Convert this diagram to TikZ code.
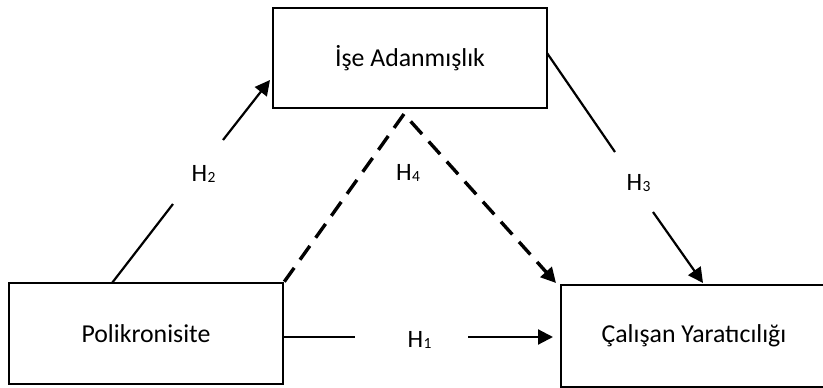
\documentclass[tikz,border=0pt]{standalone}
\usepackage{fontspec}
\setmainfont{Carlito}
\usetikzlibrary{arrows.meta}
\newcommand{\hsub}[1]{H\kern0.5pt\raisebox{-1.5pt}{\fontsize{15.5}{18}\selectfont #1}}
\begin{document}
\begin{tikzpicture}[x=1pt,y=-1pt,
  box/.style={draw, line width=2.6pt, inner sep=0pt, font=\fontsize{25.8}{30}\selectfont},
  conn/.style={line width=2.2pt},
  arr/.style={-{Triangle[length=15pt,width=15pt]}},
  dashconn/.style={line width=3.4pt, dash pattern=on 17pt off 10pt, line join=miter},
  hlab/.style={anchor=base, inner sep=0pt, font=\fontsize{25}{29}\selectfont}]
\useasboundingbox (0,0) rectangle (823,388);
\fill[white] (0,0) rectangle (823,388);

% boxes
\node[box, minimum width=274pt, minimum height=100pt] (adan) at (410,58) {İşe Adanmışlık};
\node[box, minimum width=274pt, minimum height=101pt] (poli) at (146,333.5) {Polikronisite};
\node[box, minimum width=266pt, minimum height=102pt] (cal) at (694,336) {Çalışan Yaratıcılığı};

% H2
\coordinate (h2s) at (112,283);
\coordinate (h2a) at (173,204);
\coordinate (h2b) at (223,140);
\coordinate (h2e) at (270,80);
\draw[conn] (h2s) -- (h2a);
\draw[conn,arr] (h2b) -- (h2e);
\node[hlab] (H2) at (203.5,181) {\hsub{2}};

% H3
\coordinate (h3s) at (547,53);
\coordinate (h3a) at (615,152);
\coordinate (h3b) at (653,212);
\coordinate (h3e) at (703,283);
\draw[conn] (h3s) -- (h3a);
\draw[conn,arr] (h3b) -- (h3e);
\node[hlab] (H3) at (638.5,190) {\hsub{3}};

% H1
\coordinate (h1s) at (283,337);
\coordinate (h1a) at (355,337);
\coordinate (h1b) at (468,337);
\coordinate (h1e) at (553,337);
\draw[conn] (h1s) -- (h1a);
\draw[conn,arr] (h1b) -- (h1e);
\node[hlab] (H1) at (419.5,347) {\hsub{1}};

% H4 dashed
\coordinate (apex) at (404,114);
\coordinate (h4e) at (556,283);
\draw[dashconn,arr] (poli.north east) -- (apex) -- (h4e);
\node[hlab] (H4) at (408,180) {\hsub{4}};
\end{tikzpicture}
\end{document}
